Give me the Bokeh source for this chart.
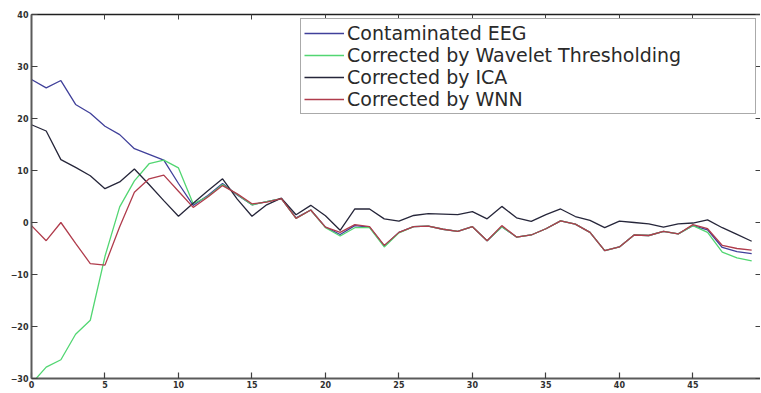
from bokeh.plotting import figure
from bokeh.models import LinearAxis, Legend, LegendItem, Range1d, FixedTicker
from bokeh.embed import file_html
from bokeh.resources import INLINE

# ---- data ----
x = list(range(50))
contaminated = [27.5, 25.9, 27.3, 22.7, 21.0, 18.5, 16.9, 14.2, 13.1, 12.0,
                7.5, 3.3, 5.2, 7.5, 5.3, 3.4, 4.0, 4.6, 0.9, 2.4,
                -0.9, -2.3, -0.6, -0.9, -4.5, -1.9, -0.8, -0.7, -1.3, -1.7,
                -0.8, -3.5, -0.8, -2.8, -2.4, -1.2, 0.3, -0.3, -1.9, -5.4,
                -4.7, -2.4, -2.5, -1.7, -2.2, -0.6, -1.4, -4.8, -5.6, -6.0]
wavelet = [-31.0, -27.8, -26.4, -21.5, -18.8, -6.5, 3.0, 8.0, 11.3, 12.0,
           10.5, 3.6, 5.0, 7.3, 5.4, 3.4, 4.0, 4.6, 0.8, 2.4,
           -1.0, -2.6, -1.0, -1.0, -4.7, -2.0, -0.8, -0.7, -1.3, -1.7,
           -0.8, -3.5, -0.8, -2.8, -2.4, -1.2, 0.3, -0.3, -1.9, -5.4,
           -4.7, -2.4, -2.5, -1.7, -2.2, -0.6, -1.9, -5.7, -6.8, -7.4]
ica = [18.8, 17.6, 12.1, 10.6, 9.0, 6.5, 7.8, 10.3, 7.3, 4.2,
       1.2, 3.7, 6.1, 8.4, 4.5, 1.2, 3.4, 4.7, 1.5, 3.3,
       1.3, -1.5, 2.6, 2.6, 0.7, 0.25, 1.35, 1.7, 1.6, 1.5,
       2.1, 0.7, 3.1, 0.9, 0.2, 1.5, 2.6, 1.15, 0.4, -1.0,
       0.25, 0.0, -0.26, -0.9, -0.26, -0.1, 0.5, -1.0, -2.3, -3.6]
wnn = [-0.6, -3.5, 0.0, -4.0, -7.9, -8.2, -0.8, 5.8, 8.4, 9.1,
       6.0, 2.9, 4.9, 7.1, 5.5, 3.6, 3.9, 4.6, 0.8, 2.4,
       -0.9, -1.9, -0.4, -0.8, -4.4, -1.9, -0.8, -0.7, -1.3, -1.7,
       -0.8, -3.5, -0.6, -2.8, -2.4, -1.2, 0.3, -0.3, -1.9, -5.4,
       -4.7, -2.4, -2.5, -1.7, -2.2, -0.4, -1.2, -4.4, -5.0, -5.3]

series_names = ["Contaminated EEG", "Corrected by Wavelet Thresholding",
                "Corrected by ICA", "Corrected by WNN"]
series_colors = ["#40409a", "#52d672", "#26263a", "#b03c4c"]
x_ticks = [0, 5, 10, 15, 20, 25, 30, 35, 40, 45, 50]
y_ticks = [-30, -20, -10, 0, 10, 20, 30, 40]

p = figure(width=760, height=392, output_backend="svg", toolbar_location=None,
           x_range=Range1d(0, 49.6), y_range=Range1d(-30, 40),
           min_border_left=31, min_border_right=0, min_border_top=14,
           min_border_bottom=14, background_fill_color="white",
           border_fill_color="white")
p.xgrid.visible = False
p.ygrid.visible = False
p.outline_line_color = None

tick_font = "DejaVu Sans"
for ax in (p.xaxis[0], p.yaxis[0]):
    ax.major_tick_in = 6
    ax.major_tick_out = 0
    ax.minor_tick_line_color = None
    ax.axis_line_color = "#5a5a5a"
    ax.axis_line_width = 2
    ax.major_tick_line_color = "#404040"
    ax.major_tick_line_width = 1.2
    ax.major_label_text_font = tick_font
    ax.major_label_text_font_style = "bold"
    ax.major_label_text_font_size = "8px"
    ax.major_label_text_color = "#303030"
    ax.major_label_standoff = 3
p.xaxis.ticker = FixedTicker(ticks=x_ticks)
p.yaxis.ticker = FixedTicker(ticks=y_ticks)
p.xaxis.major_label_standoff = 2

top = LinearAxis(ticker=FixedTicker(ticks=x_ticks), major_tick_in=5,
                 major_tick_out=0, minor_tick_line_color=None,
                 major_label_overrides={t: "" for t in x_ticks},
                 major_label_standoff=0, major_label_text_font_size="8px",
                 axis_line_color="#202020", axis_line_width=1.5,
                 major_tick_line_color="#404040")
p.add_layout(top, "above")

right = LinearAxis(ticker=FixedTicker(ticks=y_ticks), major_tick_in=5,
                   major_tick_out=0, minor_tick_line_color=None,
                   major_label_overrides={t: "" for t in y_ticks},
                   major_label_standoff=0, major_label_text_font_size="8px",
                   axis_line_color=None, major_tick_line_color="#404040")
p.add_layout(right, "right")

renderers = []
for ys, c in zip([contaminated, wavelet, ica, wnn], series_colors):
    r = p.line(x, ys, line_color=c, line_width=1.3)
    renderers.append(r)

legend = Legend(items=[LegendItem(label=n, renderers=[r])
                       for n, r in zip(series_names, renderers)],
                location=(269, 264))
legend.border_line_color = "#555555"
legend.border_line_width = 1.5
legend.background_fill_color = "white"
legend.background_fill_alpha = 1.0
legend.label_text_font = "DejaVu Sans"
legend.label_text_font_size = "19px"
legend.label_text_color = "#2a2a2a"
legend.label_text_line_height = 1.0
legend.glyph_width = 40
legend.glyph_height = 18
legend.label_height = 18
legend.label_width = 405
legend.label_standoff = 3
legend.spacing = 0
legend.padding = 3
legend.margin = 0
p.add_layout(legend)

open("out.html", "w").write(file_html(p, INLINE))
